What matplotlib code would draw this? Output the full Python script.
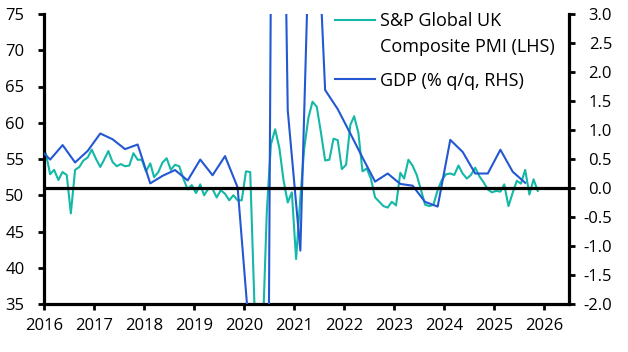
import pandas as pd
import matplotlib
matplotlib.use("Agg")
import matplotlib.pyplot as plt
import matplotlib.dates as mdates
from matplotlib.lines import Line2D

plt.rcParams['font.family'] = ['Open Sans', 'DejaVu Sans']
plt.rcParams['axes.unicode_minus'] = False

TEAL = "#14b8a6"
BLUE = "#2358d2"

# S&P Global UK Composite PMI, monthly from Jan 2016
pmi = [
    55.7, 52.9, 53.5, 52.1, 53.2, 52.8, 47.5, 53.5, 53.9, 54.8, 55.2, 56.3,  # 2016
    55.0, 53.9, 54.9, 56.1, 54.6, 54.0, 54.3, 54.0, 54.1, 55.8, 54.9, 54.9,  # 2017
    53.3, 54.4, 52.5, 53.2, 54.5, 55.1, 53.5, 54.2, 54.0, 52.3, 50.8, 51.4,  # 2018
    50.3, 51.5, 50.0, 50.9, 50.9, 49.7, 50.7, 50.2, 49.3, 50.0, 49.3, 49.3,  # 2019
    53.3, 53.2, 36.0, 13.8, 30.0, 47.7, 57.0, 59.1, 56.5, 52.1, 49.0, 50.4,  # 2020
    41.2, 49.6, 56.4, 60.7, 62.9, 62.2, 58.7, 54.8, 54.9, 57.8, 57.6, 53.6,  # 2021
    54.2, 59.7, 60.9, 58.6, 53.3, 53.7, 52.3, 49.7, 49.1, 48.5, 48.3, 49.1,  # 2022
    48.6, 53.1, 52.3, 54.9, 54.1, 52.8, 50.8, 48.7, 48.5, 48.7, 50.7, 52.1,  # 2023
    52.9, 53.0, 52.8, 54.1, 53.0, 52.3, 52.8, 53.8, 52.6, 51.8, 50.8, 50.4,  # 2024
    50.6, 50.5, 51.5, 48.5, 50.3, 52.0, 51.6, 53.5, 50.1, 52.2, 50.6,        # 2025
]

# GDP % q/q, quarterly from Q4 2015
gdp = [
    0.71,
    0.49, 0.74, 0.44, 0.64,    # 2016
    0.94, 0.84, 0.67, 0.75,    # 2017
    0.08, 0.21, 0.31, 0.13,    # 2018
    0.49, 0.22, 0.55, 0.01,    # 2019
    -2.7, -20.3, 16.0, 1.34,   # 2020
    -1.08, 6.5, 1.69, 1.36,    # 2021
    0.94, 0.52, 0.11, 0.25,    # 2022
    0.07, 0.04, -0.24, -0.32,  # 2023
    0.83, 0.62, 0.25, 0.25,    # 2024
    0.66, 0.28, 0.09,          # 2025
]

# mid-month / mid-quarter positions
pmi_dates = pd.date_range("2016-01-01", periods=len(pmi), freq="MS") + pd.Timedelta(days=14)
gdp_dates = pd.date_range("2015-10-01", periods=len(gdp), freq="QS") + pd.Timedelta(days=45)

fig = plt.figure(figsize=(6.28, 3.52), dpi=100)
ax = fig.add_axes([44 / 628, 48 / 352, 525 / 628, 290 / 352])
ax2 = ax.twinx()

ax.plot(pmi_dates, pmi, color=TEAL, lw=1.5)
ax2.plot(gdp_dates, gdp, color=BLUE, lw=1.5)
ax2.axhline(0, color="black", lw=2.3, zorder=3)

ax.set_xlim(pd.Timestamp("2016-01-01"), pd.Timestamp("2026-07-01"))
ax.set_ylim(35, 75)
ax2.set_ylim(-2, 3)
ax.set_yticks(range(35, 76, 5))
ax2.set_yticks([-2 + 0.5 * i for i in range(11)])
ax2.set_yticklabels([f"{-2 + 0.5 * i:.1f}" for i in range(11)])
for lab in ax2.get_yticklabels():
    lab.set_ha("right")

ax.xaxis.set_major_locator(mdates.YearLocator())
ax.xaxis.set_major_formatter(mdates.DateFormatter("%Y"))

ax.tick_params(axis="x", direction="out", length=4, width=2, labelsize=12, pad=6)
ax.tick_params(axis="y", direction="out", length=4, width=2, labelsize=12, pad=10)
ax2.tick_params(axis="y", direction="out", length=4, width=2, labelsize=12, pad=27)

for s in ["top", "right"]:
    ax.spines[s].set_visible(False)
for s in ["top", "left", "bottom"]:
    ax2.spines[s].set_visible(False)
for s in ["left", "bottom"]:
    ax.spines[s].set_linewidth(2.3)
ax2.spines["right"].set_linewidth(2.3)

# legend drawn by hand (handle sits on first line of the PMI label)
def fy(p):
    return 1 - p / 352

fig.add_artist(Line2D([335 / 628, 375 / 628], [fy(20), fy(20)], color=TEAL, lw=1.5))
fig.add_artist(Line2D([335 / 628, 375 / 628], [fy(79), fy(79)], color=BLUE, lw=1.5))
fig.text(380 / 628, fy(26.5), "S&P Global UK", fontsize=13, va="baseline")
fig.text(380 / 628, fy(51.5), "Composite PMI (LHS)", fontsize=13, va="baseline")
fig.text(380 / 628, fy(85.5), "GDP (% q/q, RHS)", fontsize=13, va="baseline")

fig.savefig("out.png", dpi=100)
